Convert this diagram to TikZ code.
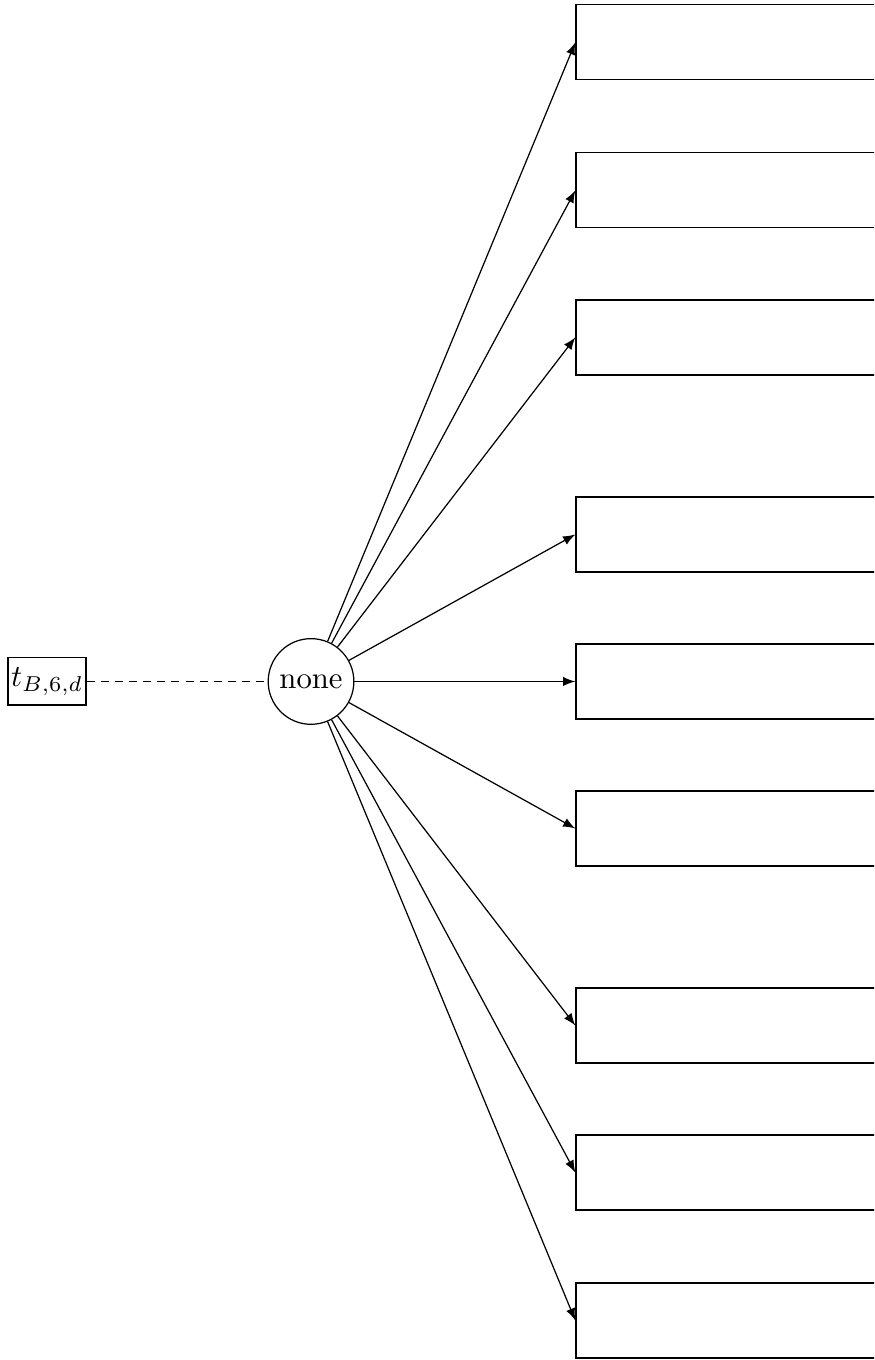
\documentclass[tikz,border=0pt]{standalone}
\usetikzlibrary{positioning}

\begin{document}
\begin{tikzpicture}[
	leaf/.style={draw, minimum width=3.48cm, minimum height=0.858cm, inner sep=0pt},
	choice/.style={draw, circle, minimum size=0.98cm, inner sep=0pt},
	tvar/.style={draw, minimum width=0.89cm, minimum height=0.54cm, inner sep=1pt}]
	\clip (0,7.796) rectangle (10,-7.762);
	\node[choice] (none) at (3.558,0) {none};
	\node[tvar] (t) at (0.538,0) {$t_{B,6,d}$};
	\node[leaf] (L1) at (8.329,7.311) {};
	\node[leaf] (L2) at (8.329,5.618) {};
	\node[leaf] (L3) at (8.329,3.936) {};
	\node[leaf] (L4) at (8.329,1.682) {};
	\node[leaf] (L5) at (8.329,0) {};
	\node[leaf] (L6) at (8.329,-1.682) {};
	\node[leaf] (L7) at (8.329,-3.936) {};
	\node[leaf] (L8) at (8.329,-5.618) {};
	\node[leaf] (L9) at (8.329,-7.311) {};
	\draw[dash pattern=on 2.6pt off 2pt] (t) -- (none);
	\draw[-latex] (none) -- (L1.west);
	\draw[-latex] (none) -- (L2.west);
	\draw[-latex] (none) -- (L3.west);
	\draw[-latex] (none) -- (L4.west);
	\draw[-latex] (none) -- (L5.west);
	\draw[-latex] (none) -- (L6.west);
	\draw[-latex] (none) -- (L7.west);
	\draw[-latex] (none) -- (L8.west);
	\draw[-latex] (none) -- (L9.west);
\end{tikzpicture}
\end{document}
